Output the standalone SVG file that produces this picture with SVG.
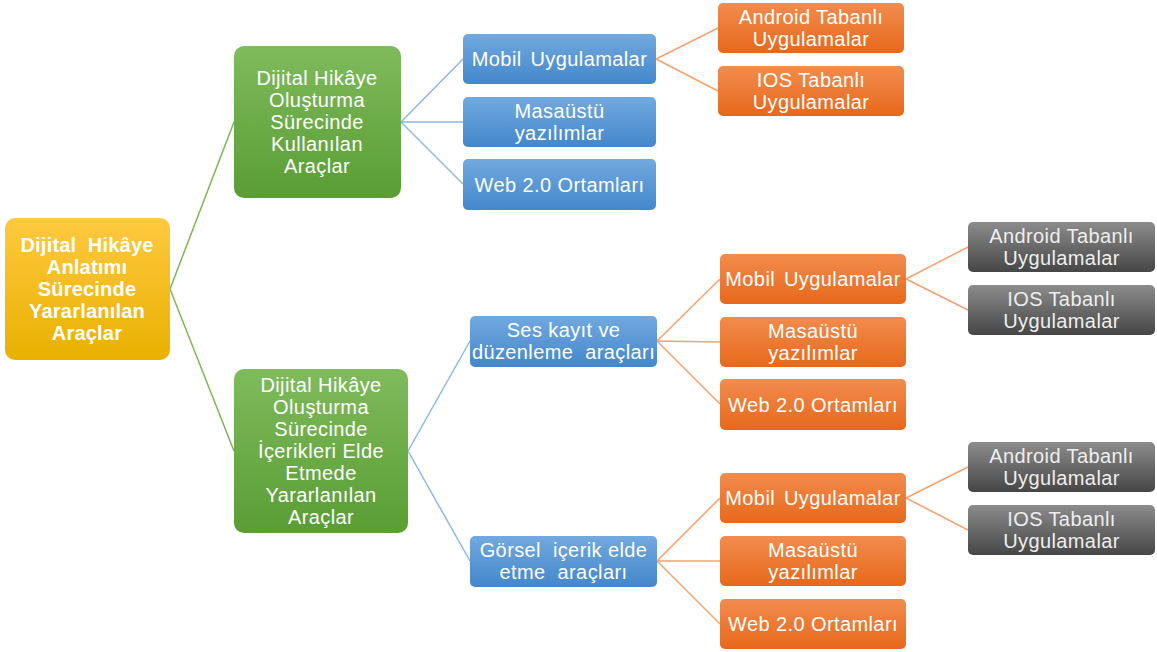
<svg xmlns="http://www.w3.org/2000/svg" width="1157" height="652" viewBox="0 0 1157 652">
<defs>
<linearGradient id="gy" x1="0" y1="0" x2="0" y2="1"><stop offset="0" stop-color="#FFC940"/><stop offset="1" stop-color="#E9B000"/></linearGradient>
<linearGradient id="gg" x1="0" y1="0" x2="0" y2="1"><stop offset="0" stop-color="#7FBB5C"/><stop offset="1" stop-color="#599D33"/></linearGradient>
<linearGradient id="gb" x1="0" y1="0" x2="0" y2="1"><stop offset="0" stop-color="#72A9DF"/><stop offset="1" stop-color="#4387CB"/></linearGradient>
<linearGradient id="go" x1="0" y1="0" x2="0" y2="1"><stop offset="0" stop-color="#F28C4E"/><stop offset="1" stop-color="#E7681B"/></linearGradient>
<linearGradient id="gr" x1="0" y1="0" x2="0" y2="1"><stop offset="0" stop-color="#8C8C8C"/><stop offset="1" stop-color="#464646"/></linearGradient>
</defs>
<style>
text{font-family:"Liberation Sans",Arial,sans-serif;font-size:20px;letter-spacing:0.4px;fill:#fff;text-anchor:middle;white-space:pre}
.b{font-weight:bold;letter-spacing:0.2px}
.w{word-spacing:3px}
.g text{fill:#eeeeee}
.lg{stroke:#7DB65A;stroke-width:1.5;fill:none}
.lb{stroke:#8DB8E2;stroke-width:1.5;fill:none}
.lo{stroke:#F3A271;stroke-width:1.5;fill:none}
</style>
<g id="connectors">
<path class="lg" d="M170 289L234 122M170 289L234 451"/>
<path class="lb" d="M401 122L463 59M401 122L463 122M401 122L463 184"/>
<path class="lo" d="M656 59L718 28M656 59L718 91"/>
<path class="lb" d="M408 451L470 341M408 451L470 561"/>
<path class="lo" d="M657 341L720 279M657 341L720 342M657 341L720 404"/>
<path class="lo" d="M657 561L720 498M657 561L720 561M657 561L720 624"/>
<path class="lo" d="M906 279L968 247M906 279L968 310"/>
<path class="lo" d="M906 498L968 467M906 498L968 530"/>
</g>
<g id="root">
<rect x="5" y="218" width="165" height="142" rx="10" fill="url(#gy)"/>
<text class="b" x="87" y="252">Dijital&#160; Hikâye</text>
<text class="b" x="87" y="274">Anlatımı</text>
<text class="b" x="87" y="296">Sürecinde</text>
<text class="b" x="87" y="318">Yararlanılan</text>
<text class="b" x="87" y="340">Araçlar</text>
</g>
<g id="g1">
<rect x="234" y="46" width="167" height="152" rx="10" fill="url(#gg)"/>
<text x="317" y="85">Dijital Hikâye</text>
<text x="317" y="107">Oluşturma</text>
<text x="317" y="129">Sürecinde</text>
<text x="317" y="151">Kullanılan</text>
<text x="317" y="173">Araçlar</text>
</g>
<g id="g2">
<rect x="234" y="369" width="174" height="164" rx="10" fill="url(#gg)"/>
<text x="321" y="392">Dijital Hikâye</text>
<text x="321" y="414">Oluşturma</text>
<text x="321" y="436">Sürecinde</text>
<text x="321" y="458">İçerikleri Elde</text>
<text x="321" y="480">Etmede</text>
<text x="321" y="502">Yararlanılan</text>
<text x="321" y="524">Araçlar</text>
</g>
<g id="b1">
<rect x="463" y="34" width="193" height="50" rx="5" fill="url(#gb)"/>
<text class="w" x="559.5" y="66">Mobil Uygulamalar</text>
</g>
<g id="b2">
<rect x="463" y="97" width="193" height="50" rx="5" fill="url(#gb)"/>
<text x="559.5" y="117.5">Masaüstü</text>
<text x="559.5" y="139.5">yazılımlar</text>
</g>
<g id="b3">
<rect x="463" y="159" width="193" height="51" rx="5" fill="url(#gb)"/>
<text x="559.5" y="191.5">Web 2.0 Ortamları</text>
</g>
<g id="o1">
<rect x="718" y="3" width="186" height="50" rx="5" fill="url(#go)"/>
<text x="811" y="23.5">Android Tabanlı</text>
<text x="811" y="45.5">Uygulamalar</text>
</g>
<g id="o2">
<rect x="718" y="66" width="186" height="50" rx="5" fill="url(#go)"/>
<text x="811" y="86.5">IOS Tabanlı</text>
<text x="811" y="108.5">Uygulamalar</text>
</g>
<g id="b4">
<rect x="470" y="316" width="187" height="51" rx="5" fill="url(#gb)"/>
<text x="563.5" y="337">Ses kayıt ve</text>
<text x="563.5" y="359">düzenleme&#160; araçları</text>
</g>
<g id="b5">
<rect x="470" y="536" width="187" height="51" rx="5" fill="url(#gb)"/>
<text x="563.5" y="557">Görsel&#160; içerik elde</text>
<text x="563.5" y="579">etme&#160; araçları</text>
</g>
<g id="o3">
<rect x="720" y="254" width="186" height="50" rx="5" fill="url(#go)"/>
<text class="w" x="813" y="286">Mobil Uygulamalar</text>
</g>
<g id="o4">
<rect x="720" y="317" width="186" height="50" rx="5" fill="url(#go)"/>
<text x="813" y="337.5">Masaüstü</text>
<text x="813" y="359.5">yazılımlar</text>
</g>
<g id="o5">
<rect x="720" y="379" width="186" height="51" rx="5" fill="url(#go)"/>
<text x="813" y="411.5">Web 2.0 Ortamları</text>
</g>
<g id="o6">
<rect x="720" y="473" width="186" height="50" rx="5" fill="url(#go)"/>
<text class="w" x="813" y="505">Mobil Uygulamalar</text>
</g>
<g id="o7">
<rect x="720" y="536" width="186" height="50" rx="5" fill="url(#go)"/>
<text x="813" y="556.5">Masaüstü</text>
<text x="813" y="578.5">yazılımlar</text>
</g>
<g id="o8">
<rect x="720" y="599" width="186" height="50" rx="5" fill="url(#go)"/>
<text x="813" y="631">Web 2.0 Ortamları</text>
</g>
<g id="r1" class="g">
<rect x="968" y="222" width="187" height="50" rx="5" fill="url(#gr)"/>
<text x="1061.5" y="242.5">Android Tabanlı</text>
<text x="1061.5" y="264.5">Uygulamalar</text>
</g>
<g id="r2" class="g">
<rect x="968" y="285" width="187" height="50" rx="5" fill="url(#gr)"/>
<text x="1061.5" y="305.5">IOS Tabanlı</text>
<text x="1061.5" y="327.5">Uygulamalar</text>
</g>
<g id="r3" class="g">
<rect x="968" y="442" width="187" height="50" rx="5" fill="url(#gr)"/>
<text x="1061.5" y="462.5">Android Tabanlı</text>
<text x="1061.5" y="484.5">Uygulamalar</text>
</g>
<g id="r4" class="g">
<rect x="968" y="505" width="187" height="50" rx="5" fill="url(#gr)"/>
<text x="1061.5" y="525.5">IOS Tabanlı</text>
<text x="1061.5" y="547.5">Uygulamalar</text>
</g>
</svg>
